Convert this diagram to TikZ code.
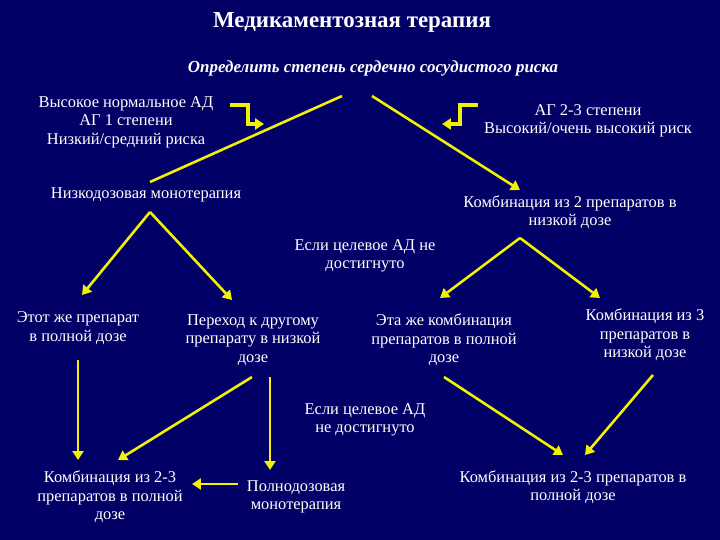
\documentclass[tikz,border=0pt]{standalone}
\usepackage{fontspec}
\setmainfont{Liberation Serif}
\usetikzlibrary{arrows.meta}
\definecolor{bg}{HTML}{000066}
\definecolor{ar}{HTML}{F2F200}
\begin{document}
\begin{tikzpicture}[x=1bp,y=-1bp,
  txt/.style={text=white,font=\fontsize{16.5}{18.5}\selectfont,align=center,inner sep=1pt},
  arr/.style={draw=ar,line width=2.6pt,-{Triangle[length=9pt,width=11pt]}},
  ln/.style={draw=ar,line width=2.6pt}]
\fill[bg] (0,0) rectangle (720,540);
\useasboundingbox (0,0) rectangle (720,540);
\node[txt,font=\bfseries\fontsize{23}{25}\selectfont] (title) at (352,22) {Медикаментозная терапия};
\node[txt,font=\bfseries\itshape\fontsize{17}{19}\selectfont] (sub) at (373,68) {Определить степень сердечно сосудистого риска};
\node[txt] (hi) at (126,122) {Высокое нормальное АД\\АГ 1 степени\\Низкий/средний риска};
\node[txt] (ag) at (588,121) {АГ 2-3 степени\\Высокий/очень высокий риск};
\node[txt] (mono) at (146,195) {Низкодозовая монотерапия};
\node[txt] (comb2) at (570,212) {Комбинация из 2 препаратов в\\низкой дозе};
\node[txt] (if1) at (365,256) {Если целевое АД не\\достигнуто};
\node[txt] (same) at (78,328) {Этот же препарат\\в полной дозе};
\node[txt] (other) at (253,340) {Переход к другому\\препарату в низкой\\дозе};
\node[txt] (samec) at (444,340) {Эта же комбинация\\препаратов в полной\\дозе};
\node[txt] (comb3) at (645,335) {Комбинация из 3\\препаратов в\\низкой дозе};
\node[txt] (if2) at (365,420) {Если целевое АД\\не достигнуто};
\node[txt] (comb23l) at (110,497) {Комбинация из 2-3\\препаратов в полной\\дозе};
\node[txt] (full) at (296,497) {Полнодозовая\\монотерапия};
\node[txt] (comb23r) at (573,487) {Комбинация из 2-3 препаратов в\\полной дозе};
\draw[ln] (342,96) -- (150,182);
\draw[arr] (372,96) -- (520,190);
\draw[arr,line width=3.2pt] (230,105) -- (248,105) -- (248,124) -- (264,124);
\draw[arr,line width=3.2pt] (478,105) -- (460,105) -- (460,124) -- (442,124);
\draw[arr] (150,212) -- (82,295);
\draw[arr] (150,212) -- (232,300);
\draw[arr] (520,238) -- (440,298);
\draw[arr] (520,238) -- (600,298);
\draw[arr] (78,360) -- (78,460);
\draw[arr] (252,377) -- (118,460);
\draw[arr] (270,377) -- (270,470);
\draw[arr] (444,377) -- (563,455);
\draw[arr] (653,375) -- (585,455);
\draw[arr] (238,484) -- (192,484);
\end{tikzpicture}
\end{document}
